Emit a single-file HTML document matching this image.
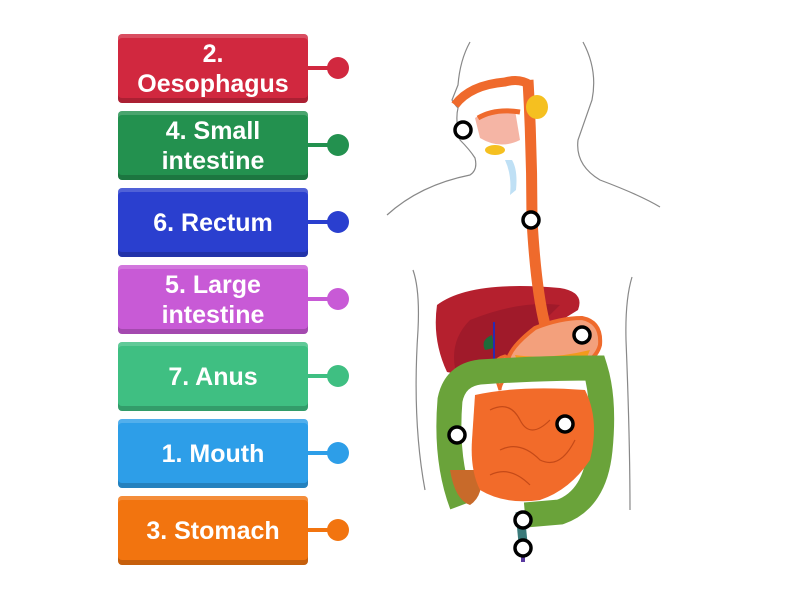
<!DOCTYPE html>
<html><head><meta charset="utf-8"><style>
html,body{margin:0;padding:0;background:#fff;width:800px;height:600px;overflow:hidden}
.b{position:absolute;left:118px;width:190px;height:69px;border-radius:4px;color:#fff;font-family:"Liberation Sans",sans-serif;font-weight:bold;font-size:25px;line-height:30px;display:flex;align-items:center;justify-content:center;text-align:center;box-shadow:inset 0 -5px 0 rgba(0,0,0,0.18),inset 0 4px 0 rgba(255,255,255,0.18)}
</style></head><body>
<svg width="800" height="600" style="position:absolute;left:0;top:0">
<g stroke-width="4">
<line x1="308" y1="68" x2="338" y2="68" stroke="#d1283f"/><circle cx="338" cy="68" r="11" fill="#d1283f"/>
<line x1="308" y1="145" x2="338" y2="145" stroke="#23914f"/><circle cx="338" cy="145" r="11" fill="#23914f"/>
<line x1="308" y1="222" x2="338" y2="222" stroke="#2a3fcf"/><circle cx="338" cy="222" r="11" fill="#2a3fcf"/>
<line x1="308" y1="299" x2="338" y2="299" stroke="#c85ad6"/><circle cx="338" cy="299" r="11" fill="#c85ad6"/>
<line x1="308" y1="376" x2="338" y2="376" stroke="#3fbf82"/><circle cx="338" cy="376" r="11" fill="#3fbf82"/>
<line x1="308" y1="453" x2="338" y2="453" stroke="#2d9ee8"/><circle cx="338" cy="453" r="11" fill="#2d9ee8"/>
<line x1="308" y1="530" x2="338" y2="530" stroke="#f2740f"/><circle cx="338" cy="530" r="11" fill="#f2740f"/>
</g>
<g fill="none" stroke="#888" stroke-width="1.2">
<path d="M470,42 Q460,60 458,85 L452,100 Q455,105 458,108 Q455,120 460,140 Q470,150 475,158 Q478,170 470,175 Q420,185 387,215"/>
<path d="M583,42 Q598,70 592,100 Q585,120 578,140 Q575,165 600,180 Q640,195 660,207"/>
<path d="M413,270 Q420,290 418,330 Q412,420 425,490"/>
<path d="M632,277 Q625,300 626,340 Q630,440 630,510"/>
</g>
<path d="M437,305 Q470,280 560,288 Q585,292 578,310 Q545,330 505,360 Q470,378 447,372 Q432,340 437,305Z" fill="#b5202e"/>
<path d="M470,320 Q520,300 560,305 Q530,335 500,360 Q475,370 455,368 Q450,340 470,320Z" fill="#a01a2a"/>
<path d="M485,350 Q480,340 492,335 L494,348Z" fill="#1f6b3a"/>
<path d="M494,322 L494,368" stroke="#2a2ab0" stroke-width="2"/>
<path d="M535,328 Q560,318 582,318 Q602,322 600,345 Q595,365 560,372 Q530,380 510,370 Q500,355 535,328Z" fill="#f3a07c" stroke="#ef6a2c" stroke-width="4"/>
<path d="M495,375 Q490,360 505,356 L520,365 Q500,380 500,390Z" fill="#f3a07c" stroke="#ef6a2c" stroke-width="3"/>
<path d="M515,355 Q550,360 590,350 L585,362 Q550,370 520,368Z" fill="#f39a1c"/>
<path d="M528,80 Q532,150 532,220 Q536,290 545,325" fill="none" stroke="#ef6a2c" stroke-width="11"/>
<path d="M455,105 Q470,85 505,82 Q520,78 530,85" fill="none" stroke="#ef6a2c" stroke-width="9"/>
<path d="M475,118 Q490,108 515,110 L520,140 Q500,150 480,138Z" fill="#f5b5a5"/>
<path d="M478,118 Q495,108 520,112" fill="none" stroke="#ef6a2c" stroke-width="5"/>
<ellipse cx="537" cy="107" rx="11" ry="12" fill="#f5c020"/>
<ellipse cx="495" cy="150" rx="10" ry="5" fill="#f5c020"/>
<path d="M505,160 Q512,175 510,195 L516,190 Q518,170 512,160Z" fill="#bfe0f5"/>
<path d="M462,505 Q445,460 450,400 Q455,375 480,372 Q540,368 595,368 Q605,400 600,450 Q595,500 560,512 L525,515" fill="none" stroke="#6aa33a" stroke-width="25"/>
<path d="M450,470 Q455,500 470,505 Q485,495 480,470Z" fill="#c86a2a"/>
<path d="M475,395 Q520,385 585,390 Q600,420 590,460 Q570,490 540,500 Q505,505 480,490 Q470,470 472,440Z" fill="#f26b2a"/>
<path d="M490,410 Q510,400 520,420 Q530,440 550,420 M500,450 Q520,440 540,460 Q560,470 575,440 M490,475 Q510,465 530,485" fill="none" stroke="#c54a18" stroke-width="1.2"/>
<path d="M520,512 L524,553" stroke="#3a7a7a" stroke-width="9"/>
<path d="M523,553 L523,562" stroke="#5a3aa0" stroke-width="4"/>
<g fill="#fff" stroke="#000" stroke-width="3.5">
<circle cx="463" cy="130" r="8"/><circle cx="531" cy="220" r="8"/><circle cx="582" cy="335" r="8"/><circle cx="565" cy="424" r="8"/><circle cx="457" cy="435" r="8"/><circle cx="523" cy="520" r="8"/><circle cx="523" cy="548" r="8"/>
</g>
</svg>
<div class="b" style="top:34px;background:#d1283f">2.<br>Oesophagus</div>
<div class="b" style="top:111px;background:#23914f">4. Small<br>intestine</div>
<div class="b" style="top:188px;background:#2a3fcf">6. Rectum</div>
<div class="b" style="top:265px;background:#c85ad6">5. Large<br>intestine</div>
<div class="b" style="top:342px;background:#3fbf82">7. Anus</div>
<div class="b" style="top:419px;background:#2d9ee8">1. Mouth</div>
<div class="b" style="top:496px;background:#f2740f">3. Stomach</div>
</body></html>
